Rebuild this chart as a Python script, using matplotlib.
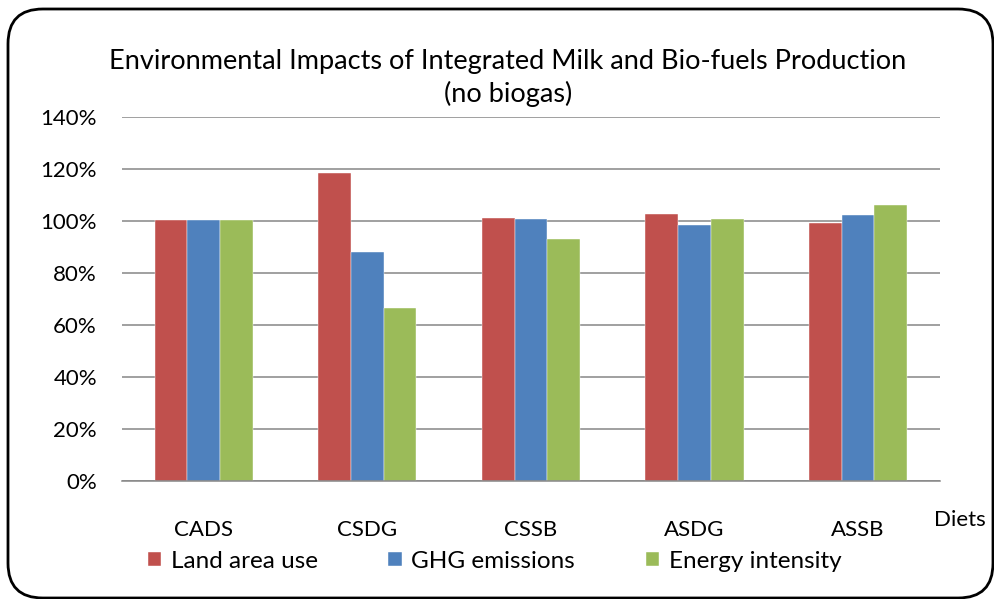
import matplotlib.pyplot as plt
import numpy as np
from matplotlib.patches import FancyBboxPatch
from matplotlib.ticker import FuncFormatter

plt.rcParams['font.family'] = ['Lato', 'DejaVu Sans']

# values (percent of CADS baseline)
diets = ["CADS", "CSDG", "CSSB", "ASDG", "ASSB"]
land_area = [100.2, 118.3, 101.0, 102.6, 99.2]
ghg = [100.2, 88.0, 100.6, 98.2, 102.3]
energy = [100.2, 66.3, 93.0, 100.6, 106.2]

series = [("Land area use", land_area, "#C0504D"),
          ("GHG emissions", ghg, "#4F81BD"),
          ("Energy intensity", energy, "#9BBB59")]

fig = plt.figure(figsize=(9.95, 5.99), dpi=100)
ax = fig.add_axes([0.1226, 0.197, 0.822, 0.6085])

# rounded frame around the whole chart
frame = FancyBboxPatch((8 / 995, 1 / 599), 985 / 995, 589 / 599,
                       boxstyle="round,pad=0,rounding_size=0.035",
                       transform=fig.transFigure, fill=False,
                       edgecolor="black", linewidth=2, clip_on=False,
                       mutation_aspect=995 / 599)
fig.patches.append(frame)

x = np.arange(len(diets))
w = 0.2
for i, (name, vals, col) in enumerate(series):
    ax.bar(x + (i - 1) * w, vals, width=w, color=col, label=name,
           edgecolor="white", linewidth=0.3, zorder=3)

ax.set_xlim(-0.5, len(diets) - 0.5)
ax.set_ylim(0, 140)
ax.set_yticks(np.arange(0, 141, 20))
ax.yaxis.set_major_formatter(FuncFormatter(lambda v, p: f"{v:.0f}%"))
ax.set_xticks(x)
ax.set_xticklabels(diets)
ax.tick_params(axis="y", length=0, pad=18, labelsize=16)
ax.tick_params(axis="x", length=0, pad=28, labelsize=16)

ax.grid(axis="y", color="#868686", linewidth=1.1, zorder=0)
for s in ["left", "right", "top"]:
    ax.spines[s].set_visible(False)
ax.spines["bottom"].set_color("#868686")
ax.spines["bottom"].set_linewidth(1.1)
ax.spines["bottom"].set_zorder(4)

fig.text(0.5106, (599 - 78) / 599, "Environmental Impacts of Integrated Milk and Bio-fuels Production\n(no biogas)",
         ha="center", va="center", fontsize=19.5, linespacing=1.32)
fig.text(960 / 995, (599 - 520) / 599, "Diets", ha="center", va="center", fontsize=16)

fig.legend(loc="center", bbox_to_anchor=(0.497, (599 - 561) / 599), ncol=3,
           frameon=False, fontsize=17.5, handlelength=0.55, handleheight=0.55,
           handletextpad=0.4, columnspacing=2.9)

fig.savefig("out.png", dpi=100)
